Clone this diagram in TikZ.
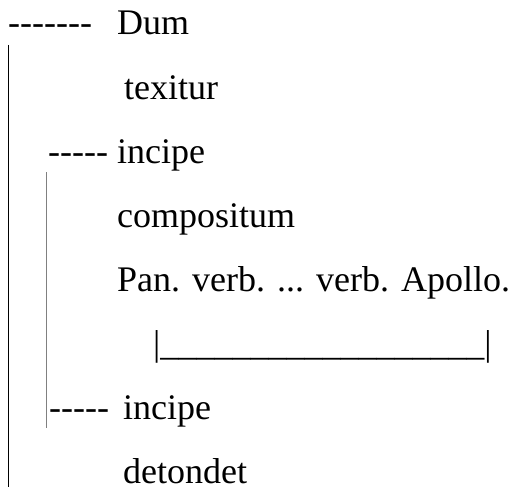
\documentclass[tikz,border=0pt]{standalone}
\usepackage{fontspec}
\setmainfont{Liberation Serif}[Ligatures=TeXOff]
\usepackage{tikz}

\begin{document}
\begin{tikzpicture}
    [x = 1pt, y = -1pt, every node/.style = {anchor = base west, inner sep = 0pt, font = \fontsize{36}{40}\selectfont}]
    \useasboundingbox (0,0) rectangle (513,487);
    \node (d1) at (8,35) {-------};
    \node (w1) at (117,35) {Dum};
    \node (w2) at (124,99) {texitur};
    \node (d2) at (48,163) {-----};
    \node (w3) at (117,163) {incipe};
    \node (w4) at (117,227) {compositum};
    \node (w5) at (117,291) {Pan. verb. ... verb. Apollo.};
    \node (w6) at (153,355) {|\_\_\_\_\_\_\_\_\_\_\_\_\_\_\_\_\_\_|};
    \node (d3) at (49,419) {-----};
    \node (w7) at (123,419) {incipe};
    \node (w8) at (123,483) {detondet};
    \coordinate (o1) at (8,45);
    \coordinate (o2) at (8,487);
    \coordinate (i1) at (46,172);
    \coordinate (i2) at (46,428);
    \draw [line width = 1pt] (o1) -- (o2);
    \draw [line width = 1pt, gray] (i1) -- (i2);
  \end{tikzpicture}
\end{document}
